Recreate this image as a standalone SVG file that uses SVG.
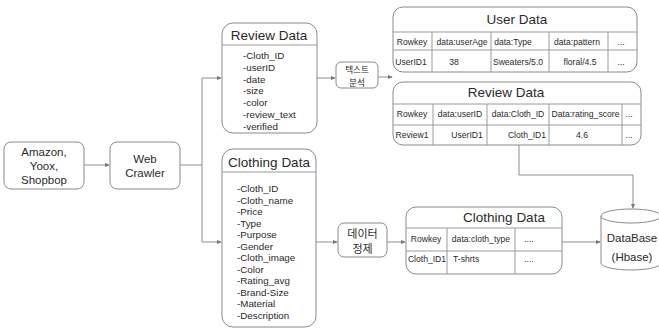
<svg xmlns="http://www.w3.org/2000/svg" width="659" height="329" viewBox="0 0 659 329">
  <defs>
    <marker id="arr" viewBox="0 0 6 6" refX="5" refY="3" markerWidth="5" markerHeight="5" orient="auto" markerUnits="userSpaceOnUse">
      <path d="M0,0.5 L6,3 L0,5.5 Z" fill="#777"/>
    </marker>
  </defs>
  <style>
    text { font-family: "Liberation Sans", "Noto Sans CJK KR", sans-serif; fill: #2a2a2a; }
    .ko { font-family: "Noto Sans CJK KR", sans-serif; }
    .box { fill: #fff; stroke: #8a8a8a; stroke-width: 1; }
    .ln { fill: none; stroke: #9a9a9a; stroke-width: 1; }
    .grid { stroke: #9a9a9a; stroke-width: 1; fill: none; }
    .conn { fill: none; stroke: #8e8e8e; stroke-width: 1; }
    .t12 { font-size: 11.5px; }
    .t13 { font-size: 13.5px; }
    .t10 { font-size: 9.8px; }
    .t9 { font-size: 8.6px; }
    .c { text-anchor: middle; }
  </style>
  <rect width="659" height="329" fill="#fff"/>

  <!-- connectors -->
  <g id="connectors">
    <path class="conn" d="M84,165 H109" marker-end="url(#arr)"/>
    <path class="conn" d="M180,165 H202"/>
    <path class="conn" d="M202,78 V242"/>
    <path class="conn" d="M202,78 H221" marker-end="url(#arr)"/>
    <path class="conn" d="M202,242 H221" marker-end="url(#arr)"/>
    <path class="conn" d="M317,78 H335" marker-end="url(#arr)"/>
    <path class="conn" d="M378,77 H392" marker-end="url(#arr)"/>
    <path class="conn" d="M316,242 H337" marker-end="url(#arr)"/>
    <path class="conn" d="M387,242 H405" marker-end="url(#arr)"/>
    <path class="conn" d="M562,242 H600" marker-end="url(#arr)"/>
    <path class="conn" d="M519,145 V175 H633 V208" marker-end="url(#arr)"/>
  </g>

  <!-- source sites -->
  <g id="sources">
    <rect class="box" x="4" y="142" width="80" height="47" rx="7"/>
    <text class="t12 c" x="44" y="156">Amazon,</text>
    <text class="t12 c" x="44" y="170">Yoox,</text>
    <text class="t12 c" x="44" y="184">Shopbop</text>
  </g>

  <!-- crawler -->
  <g id="crawler">
    <rect class="box" x="110" y="142" width="70" height="47" rx="7"/>
    <text class="t12 c" x="145" y="163">Web</text>
    <text class="t12 c" x="145" y="177">Crawler</text>
  </g>

  <!-- raw review record -->
  <g id="review-raw">
    <rect class="box" x="222" y="23" width="95" height="110" rx="11"/>
    <line class="ln" x1="222" y1="45" x2="317" y2="45"/>
    <text class="t13 c" x="269" y="40">Review  Data</text>
    <text class="t10" x="243" y="59">-Cloth_ID</text>
    <text class="t10" x="243" y="71">-userID</text>
    <text class="t10" x="243" y="82.5">-date</text>
    <text class="t10" x="243" y="94">-size</text>
    <text class="t10" x="243" y="106">-color</text>
    <text class="t10" x="243" y="118">-review_text</text>
    <text class="t10" x="243" y="130">-verified</text>
  </g>

  <!-- raw clothing record -->
  <g id="clothing-raw">
    <rect class="box" x="222" y="149" width="94" height="178" rx="11"/>
    <line class="ln" x1="222" y1="172" x2="316" y2="172"/>
    <text class="t13 c" x="269" y="167">Clothing  Data</text>
    <text class="t10" x="237" y="192">-Cloth_ID</text>
    <text class="t10" x="237" y="203.5">-Cloth_name</text>
    <text class="t10" x="237" y="215">-Price</text>
    <text class="t10" x="237" y="226.5">-Type</text>
    <text class="t10" x="237" y="238">-Purpose</text>
    <text class="t10" x="237" y="249.5">-Gender</text>
    <text class="t10" x="237" y="261">-Cloth_image</text>
    <text class="t10" x="237" y="272.5">-Color</text>
    <text class="t10" x="237" y="284">-Rating_avg</text>
    <text class="t10" x="237" y="295.5">-Brand-Size</text>
    <text class="t10" x="237" y="307">-Material</text>
    <text class="t10" x="237" y="318.5">-Description</text>
  </g>

  <!-- text analysis step -->
  <g id="text-analysis">
    <rect class="box" x="336" y="62" width="42" height="26" rx="5"/>
    <text class="ko c" font-size="8.6" x="357" y="73">텍스트</text>
    <text class="ko c" font-size="8.6" x="357" y="85.5">분석</text>
  </g>

  <!-- data cleansing step -->
  <g id="data-cleansing">
    <rect class="box" x="338" y="223" width="49" height="34" rx="6"/>
    <text class="ko c" font-size="11" x="362.5" y="238">데이터</text>
    <text class="ko c" font-size="11" x="362.5" y="253">정제</text>
  </g>

  <!-- user table -->
  <g id="user-table">
    <rect class="box" x="393" y="7" width="244" height="65" rx="10"/>
    <line class="grid" x1="393" y1="32" x2="637" y2="32"/>
    <line class="grid" x1="393" y1="50" x2="637" y2="50"/>
    <line class="grid" x1="432" y1="32" x2="432" y2="72"/>
    <line class="grid" x1="491" y1="32" x2="491" y2="72"/>
    <line class="grid" x1="549" y1="32" x2="549" y2="72"/>
    <line class="grid" x1="608" y1="32" x2="608" y2="72"/>
    <text class="t13 c" x="517" y="24">User Data</text>
    <text class="t9 c" x="412" y="45">Rowkey</text>
    <text class="t9 c" x="462" y="45">data:userAge</text>
    <text class="t9 c" x="513" y="45">data:Type</text>
    <text class="t9 c" x="577" y="45">data:pattern</text>
    <text class="t9 c" x="621" y="45">...</text>
    <text class="t9 c" x="411" y="65">UserID1</text>
    <text class="t9 c" x="454" y="65">38</text>
    <text class="t9 c" x="518" y="65">Sweaters/5.0</text>
    <text class="t9 c" x="580" y="65">floral/4.5</text>
    <text class="t9 c" x="621" y="65">...</text>
  </g>

  <!-- review table -->
  <g id="review-table">
    <rect class="box" x="393" y="82" width="248" height="63" rx="10"/>
    <line class="grid" x1="393" y1="104" x2="641" y2="104"/>
    <line class="grid" x1="393" y1="125" x2="641" y2="125"/>
    <line class="grid" x1="433" y1="104" x2="433" y2="145"/>
    <line class="grid" x1="487" y1="104" x2="487" y2="145"/>
    <line class="grid" x1="549" y1="104" x2="549" y2="145"/>
    <line class="grid" x1="622" y1="104" x2="622" y2="145"/>
    <text class="t13 c" x="506" y="97">Review  Data</text>
    <text class="t9 c" x="412" y="117">Rowkey</text>
    <text class="t9 c" x="460" y="117">data:userID</text>
    <text class="t9 c" x="518" y="117">data:Cloth_ID</text>
    <text class="t9 c" x="585.5" y="117">Data:rating_score</text>
    <text class="t9 c" x="629" y="117">...</text>
    <text class="t9 c" x="412" y="138">Review1</text>
    <text class="t9 c" x="467" y="138">UserID1</text>
    <text class="t9 c" x="527" y="138">Cloth_ID1</text>
    <text class="t9 c" x="582" y="138">4.6</text>
    <text class="t9 c" x="629" y="138">...</text>
  </g>

  <!-- clothing table -->
  <g id="clothing-table">
    <rect class="box" x="406" y="207" width="156" height="67" rx="10"/>
    <line class="grid" x1="406" y1="228" x2="562" y2="228"/>
    <line class="grid" x1="406" y1="251" x2="562" y2="251"/>
    <line class="grid" x1="447" y1="228" x2="447" y2="274"/>
    <line class="grid" x1="515" y1="228" x2="515" y2="274"/>
    <text class="t13 c" x="504" y="222">Clothing  Data</text>
    <text class="t9 c" x="426" y="242">Rowkey</text>
    <text class="t9 c" x="481" y="242">data:cloth_type</text>
    <text class="t9 c" x="529" y="242">....</text>
    <text class="t9 c" x="427" y="262">Cloth_ID1</text>
    <text class="t9" x="453" y="262">T-shrts</text>
    <text class="t9 c" x="529" y="262">....</text>
  </g>

  <!-- database -->
  <g id="database">
    <path class="box" d="M601,216 V263 A30,7 0 0 0 661,263 V216"/>
    <ellipse class="box" cx="631" cy="216" rx="30" ry="7"/>
    <text class="t12 c" x="632" y="242">DataBase</text>
    <text class="t12 c" x="632" y="261">(Hbase)</text>
  </g>
</svg>
